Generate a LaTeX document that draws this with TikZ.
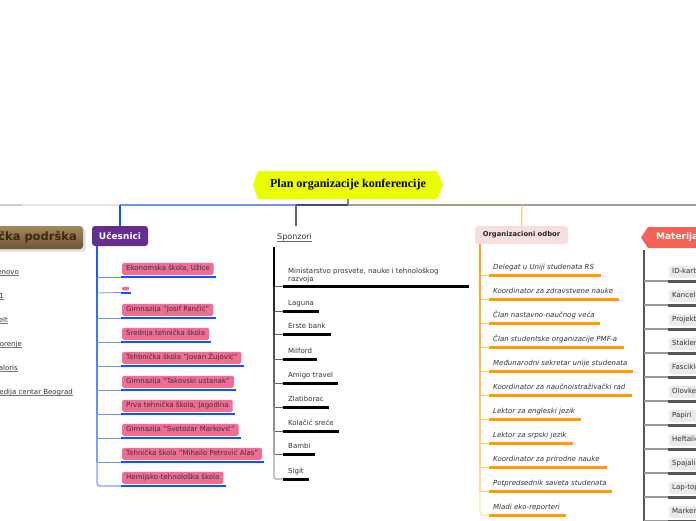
\documentclass[tikz,border=0pt]{standalone}
\usepackage{fontspec}
\setmainfont{DejaVu Sans}
\newfontfamily\titlefont{Liberation Serif}
\usetikzlibrary{calc,shadows}
\definecolor{ttl}{HTML}{EAFF00}
\definecolor{ucp}{HTML}{662D91}
\definecolor{pinkb}{HTML}{F16C98}
\definecolor{blu}{HTML}{0F52FF}
\definecolor{bluL}{HTML}{6E96EA}
\definecolor{navy}{HTML}{3D4A78}
\definecolor{tanl}{HTML}{A89B88}
\definecolor{org}{HTML}{FF9D00}
\definecolor{orgL}{HTML}{FFC56E}
\definecolor{orgpink}{HTML}{F6DFDF}
\definecolor{mat}{HTML}{F2635A}
\definecolor{matbox}{HTML}{EBEBEB}
\definecolor{dgrey}{HTML}{555555}
\definecolor{brT}{HTML}{A4895C}
\definecolor{brB}{HTML}{6A5535}
\definecolor{brText}{HTML}{3B2A12}
\definecolor{txt}{HTML}{333333}
\tikzset{
  small/.style={font=\fontsize{7}{8.2}\selectfont, text=txt},
  pinkbox/.style={small, fill=pinkb, rounded corners=1.5, inner xsep=4, inner ysep=0,
     minimum height=12, anchor=south west, text height=5, text depth=1.5},
  greybox/.style={small, fill=matbox, rounded corners=1.5, inner xsep=3, inner ysep=0,
     minimum height=12, text width=50, align=left, anchor=south west, text height=5, text depth=1.5},
  plain/.style={small, inner sep=0, anchor=base west},
  blueul/.style={draw=blu, line width=2.6},
  blackul/.style={draw=black, line width=3},
  orangeul/.style={draw=org, line width=3},
  greyul/.style={draw=dgrey, line width=3},
}
\begin{document}
\begin{tikzpicture}[x=1pt,y=-1pt]
\useasboundingbox (0,0) rectangle (696,520);
\fill[white] (0,0) rectangle (696,520);
\clip (0,0) rectangle (696,520);

% ---------- title ----------
\fill[ttl] (253,185) -- (258,171) -- (437,171) -- (443,185) -- (437,199) -- (258,199) -- cycle;
\node[minimum width=180, minimum height=28, inner sep=0,
      font=\titlefont\bfseries\fontsize{12}{14}\selectfont] (title) at (348,185) {Plan organizacije konferencije};
\coordinate (hub) at (348,205);
\draw[gray, line width=1.2] (title.south) -- (hub);

% ---------- main horizontal line ----------
\draw[line width=1.5, draw=black!20] (0,205) -- (22,205);
\draw[line width=1.5, draw=black!10] (22,205) -- (120,205);
\draw[line width=1.5, draw=bluL] (120,205) -- (296,205);
\draw[line width=1.5, draw=navy] (296,205) -- (hub);
\draw[line width=1.5, draw=tanl] (hub) -- (522,205);
\draw[line width=1.5, draw=black!38] (522,205) -- (696,205);

% ---------- left (clipped) branch ----------
\node[top color=brT, bottom color=brB, rounded corners=3, drop shadow={opacity=0.25},
      minimum width=110, minimum height=23, inner sep=0] (tp) at (28,237.5) {};
\node[font=\bfseries\fontsize{11.5}{13}\selectfont, text=brText, anchor=east, inner sep=0] (tpt) at (77,237.5) {ička podrška};
\foreach \y/\e/\t [count=\i] in {272/19/enovo, 296/4/1, 320/8/elt, 344/22/orenje, 368/18/aloris, 392/73/{edija centar Beograd}}{
  \node[small, inner sep=0, anchor=base east] (l\i) at (\e,\y+2) {\t};
  \draw[black!55, line width=0.6] (l\i.base west)++(0,1.6) -- ($(l\i.base east)+(0,1.6)$);
}

% ---------- Učesnici ----------
\coordinate (ucc) at (120,205);
\node[fill=ucp, rounded corners=3, text=white, font=\bfseries\fontsize{9}{10}\selectfont,
      minimum width=56, minimum height=20, inner sep=0] (uc) at (120,236) {Učesnici};
\draw[blu, line width=1.3] (ucc) -- (uc.north);
\coordinate (ucs) at (97,246);
\foreach \u/\t [count=\i, remember=\u as \pu (initially 246)] in {
  277/{Ekonomska škola, Užice},
  293/{},
  318/{Gimnazija "Josif Pančić"},
  342/{Srednja tehnička škola},
  366/{Tehbnička škola "Jovan Žujović"},
  390/{Gimnazija "Takovski ustanak"},
  414/{Prva tehnička škola, Jagodina},
  438/{Gimnazija "Svetozar Marković"},
  462/{Tehnička škola "Mihailo Petrović Alas"}}{
  \pgfmathsetmacro{\pc}{100-5*\i}
  \draw[blu!\pc!white, line width=1.6] (97,\pu) -- (97,\u);
  \coordinate (ub\i) at (97,\u);
}
\node[pinkbox] (ui1) at (122,275) {Ekonomska škola, Užice};
\node[fill=pinkb, rounded corners=1, minimum width=7, minimum height=3.5, inner sep=0, anchor=south west] (ui2) at (122,290.5) {};
\node[pinkbox] (ui3) at (122,316) {Gimnazija "Josif Pančić"};
\node[pinkbox] (ui4) at (122,340) {Srednja tehnička škola};
\node[pinkbox] (ui5) at (122,364) {Tehbnička škola "Jovan Žujović"};
\node[pinkbox] (ui6) at (122,388) {Gimnazija "Takovski ustanak"};
\node[pinkbox] (ui7) at (122,412) {Prva tehnička škola, Jagodina};
\node[pinkbox] (ui8) at (122,436) {Gimnazija "Svetozar Marković"};
\node[pinkbox] (ui9) at (122,460) {Tehnička škola "Mihailo Petrović Alas"};
\node[pinkbox] (ui10) at (122,484) {Hemijsko-tehnološka škola};
\foreach \i in {1,...,9}{
  \draw[bluL, line width=0.8] (ub\i) -- ($(ui\i.south west)+(-1,2)$);
}
\foreach \i in {1,3,4,5,6,7,8,9,10}{
  \draw[blueul] ($(ui\i.south west)+(-1,2)$) -- ($(ui\i.south east)+(2,2)$);
}
\draw[blueul] ($(ui2.south west)+(-1,2.5)$) -- ($(ui2.south east)+(2,2.5)$);
\draw[blu!55!white, line width=1.3, rounded corners=3] (ub9) -- (97,486) -- ($(ui10.south west)+(-1,2)$);

% ---------- Sponzori ----------
\coordinate (spc) at (296,205);
\coordinate (spe) at (296,226);
\draw[black!60, line width=1.3] (spc) -- (spe);
\node[font=\fontsize{8}{9}\selectfont, text=txt, inner sep=0, anchor=base west] (sp) at (277,239) {Sponzori};
\draw[black!60, line width=0.6] ($(sp.base west)+(0,2.2)$) -- ($(sp.base east)+(0,2.2)$);
\node[plain, align=left, font=\fontsize{7}{7.8}\selectfont] (s1) at (288,281) {Ministarstvo prosvete, nauke i tehnološkog\\razvoja};
\coordinate (s1u) at (283,286);
\draw[blackul] (s1u) -- (469,286);
\coordinate (sb1) at (274,286);
\draw[black, line width=1.6] (274,247) -- (sb1);
\draw[black!60, line width=0.8] (sb1) -- (s1u);
\foreach \u/\e/\t [count=\j from 2, remember=\u as \pu (initially 286)] in {
  311/319/Laguna, 334/331/Erste bank, 359/317/Milford, 383/338/Amigo travel,
  407/329/Zlatiborac, 431/339/Kolačić sreće, 454/315/Bambi}{
  \pgfmathsetmacro{\pc}{100-8*\j}
  \node[plain] (s\j) at (288,\u-6) {\t};
  \coordinate (sb\j) at (274,\u);
  \coordinate (s\j u) at (283,\u);
  \draw[black!\pc!white, line width=1.6] (274,\pu) -- (sb\j);
  \draw[black!60, line width=0.8] (sb\j) -- (s\j u);
  \draw[blackul] (s\j u) -- (\e,\u);
}
\node[plain] (s9) at (288,473) {Sigit};
\coordinate (s9u) at (283,479);
\draw[black!35, line width=1.2, rounded corners=2] (sb8) -- (274,479) -- (s9u);
\draw[blackul] (s9u) -- (309,479);

% ---------- Organizacioni odbor ----------
\coordinate (ooc) at (522,205);
\node[fill=orgpink, rounded corners=3, text=black!85, font=\bfseries\fontsize{6.8}{8}\selectfont,
      minimum width=93, minimum height=18, inner sep=0] (oo) at (521.5,235) {Organizacioni odbor};
\draw[orgL, line width=1.2] (ooc) -- (oo.north);
\coordinate (oos) at (480,244);
\foreach \u/\e/\t [count=\i, remember=\u as \pu (initially 244)] in {
  275/601/Delegat u Uniji studenata RS,
  299/619/Koordinator za zdravstvene nauke,
  323/600/Član nastavno-naučnog veća,
  347/624/Član studentske organizacije PMF-a,
  371/633/Međunarodni sekretar unije studenata,
  395/632/Koordinator za naučnoistraživački rad,
  419/581/Lektor za engleski jezik,
  443/573/Lektor za srpski jezik,
  467/607/Koordinator za prirodne nauke,
  491/612/Potpredsednik saveta studenata}{
  \pgfmathsetmacro{\pc}{100-6*\i}
  \node[plain, font=\itshape\fontsize{7}{8}\selectfont] (o\i) at (493,\u-5.5) {\t};
  \coordinate (ob\i) at (480,\u);
  \coordinate (o\i u) at (489,\u);
  \draw[org!\pc!white, line width=1.6] (480,\pu) -- (ob\i);
  \draw[orgL, line width=0.8] (ob\i) -- (o\i u);
  \draw[orangeul] (o\i u) -- (\e,\u);
}
\node[plain, font=\itshape\fontsize{7}{8}\selectfont] (o11) at (493,509.5) {Mladi eko-reporteri};
\coordinate (o11u) at (489,515);
\draw[org!30!white, line width=1.2, rounded corners=3] (ob10) -- (480,515) -- (o11u);
\draw[orangeul] (o11u) -- (566,515);

% ---------- Materijal ----------
\fill[mat] (641,237.5) -- (648,227) -- (700,227) -- (700,248) -- (648,248) -- cycle;
\node[text=white, font=\bfseries\fontsize{9}{10}\selectfont, inner sep=0, anchor=west] (mt) at (656,237.5) {Materijal};
\coordinate (mts) at (644,250);
\draw[dgrey, line width=1.6] (mts) -- (644,525);
\foreach \u/\t [count=\i] in {281/ID-kartice, 305/Kancelarijski, 329/Projektor, 353/Staklene,
  377/Fascikle, 401/Olovke, 425/Papiri, 449/Heftalice, 473/Spajalice, 497/Lap-top, 521/Markeri}{
  \node[greybox] (m\i) at (669,\u-3) {\t};
  \coordinate (mb\i) at (644,\u);
  \coordinate (m\i u) at (668,\u);
  \draw[black!40, line width=1.2] (mb\i) -- (m\i u);
  \draw[greyul] (m\i u) -- (700,\u);
}
\end{tikzpicture}
\end{document}
